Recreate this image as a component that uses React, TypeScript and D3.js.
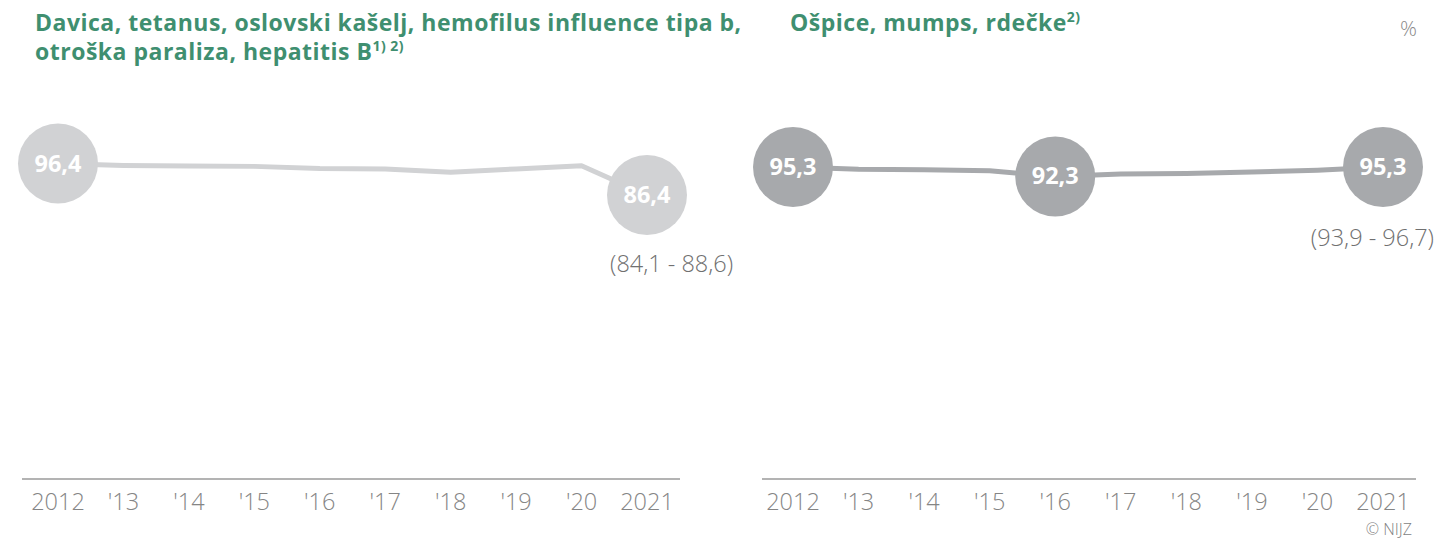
import * as React from "react";
import * as d3 from "d3";

const years = [2012, 2013, 2014, 2015, 2016, 2017, 2018, 2019, 2020, 2021];
const tickLabels = ["2012", "'13", "'14", "'15", "'16", "'17", "'18", "'19", "'20", "2021"];
// DTP-Hib-IPV-HepB coverage (%)
const dtpValues = [96.4, 95.8, 95.6, 95.5, 94.8, 94.7, 93.6, 94.7, 95.7, 86.4];
const dtpMarked = [2012, 2021];
const dtpInterval = "(84,1 - 88,6)";
// MMR coverage (%)
const mmrValues = [95.3, 94.6, 94.4, 94.1, 92.3, 93.1, 93.2, 93.7, 94.3, 95.3];
const mmrMarked = [2012, 2016, 2021];
const mmrInterval = "(93,9 - 96,7)";

const W = 1436;
const H = 539;
const GREEN = "#3f8f70";
const FONT = "'Open Sans', sans-serif";
const BASE_Y = 479;

const y = d3.scaleLinear().domain([80, 100]).range([215.2, 152.2]);
const fmt = (v: number) => v.toFixed(1).replace(".", ",");

type PanelProps = {
  x0: number; x1: number; axisFrom: number; axisTo: number;
  values: number[]; marked: number[]; color: string;
  interval: string; intervalX: number; intervalY: number; intervalAnchor: string;
};

function Panel(p: PanelProps) {
  const x = d3.scaleLinear().domain([2012, 2021]).range([p.x0, p.x1]);
  const pts = years.map((yr, i) => ({ yr, v: p.values[i] }));
  const line = d3.line<{ yr: number; v: number }>().x(d => x(d.yr)).y(d => y(d.v));
  const last = pts[pts.length - 1];
  return (
    <g>
      <line x1={p.axisFrom} x2={p.axisTo} y1={BASE_Y} y2={BASE_Y} stroke="#9a9a9a" strokeWidth={1.5} />
      {years.map((yr, i) => (
        <text key={yr} x={x(yr)} y={510} textAnchor="middle" fontSize={23.5} fill="#858585"
          fontFamily={FONT} fontWeight={300}>
          {tickLabels[i]}
        </text>
      ))}
      <path d={line(pts) || ""} fill="none" stroke={p.color} strokeWidth={5} strokeLinejoin="round" />
      {pts.filter(d => p.marked.includes(d.yr)).map(d => (
        <g key={d.yr} transform={`translate(${x(d.yr)},${y(d.v)})`}>
          <circle r={40} fill={p.color} />
          <text y={8} textAnchor="middle" fontSize={23.5} fontWeight="bold" fill="#fff" fontFamily={FONT}>
            {fmt(d.v)}
          </text>
        </g>
      ))}
      <text x={x(last.yr) + p.intervalX} y={p.intervalY} textAnchor={p.intervalAnchor}
        fontSize={23.5} fill="#707070" fontFamily={FONT} fontWeight={300}>
        {p.interval}
      </text>
    </g>
  );
}

export default function App() {
  return (
    <svg width={W} height={H} style={{ position: "absolute", left: 0, top: 0, background: "#fff" }}>
      <text x={35} y={31} fontSize={23} letterSpacing={0.5} fontWeight="bold" fill={GREEN} fontFamily={FONT}>
        Davica, tetanus, oslovski kašelj, hemofilus influence tipa b,
      </text>
      <text x={35} y={60} fontSize={23} letterSpacing={0.5} fontWeight="bold" fill={GREEN} fontFamily={FONT}>
        otroška  paraliza, hepatitis B
        <tspan fontSize={14} dy={-9}>1) 2)</tspan>
      </text>
      <text x={790} y={31} fontSize={23} letterSpacing={0.5} fontWeight="bold" fill={GREEN} fontFamily={FONT}>
        Ošpice, mumps, rdečke
        <tspan fontSize={14} dy={-9}>2)</tspan>
      </text>
      <text x={1417} y={36} textAnchor="end" fontSize={21} fill="#8a8a8a" fontFamily={FONT} fontWeight={300}>%</text>

      <Panel x0={58} x1={647} axisFrom={22} axisTo={680} values={dtpValues} marked={dtpMarked}
        color="#d1d2d4" interval={dtpInterval} intervalX={-37} intervalY={272} intervalAnchor="start" />
      <Panel x0={793} x1={1383} axisFrom={762} axisTo={1416} values={mmrValues} marked={mmrMarked}
        color="#a7a9ac" interval={mmrInterval} intervalX={51} intervalY={246} intervalAnchor="end" />

      <text x={1412} y={535} textAnchor="end" fontSize={16} fill="#7f7f7f" fontFamily={FONT} fontWeight={300}>© NIJZ</text>
    </svg>
  );
}
